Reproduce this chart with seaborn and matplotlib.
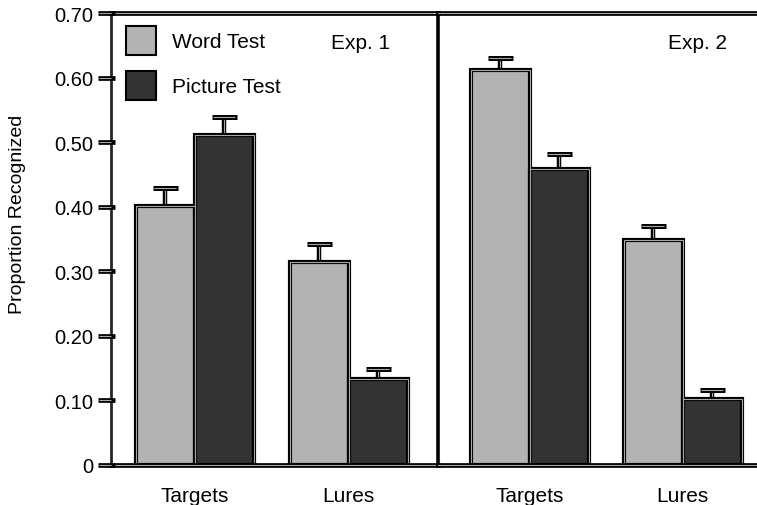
import matplotlib
matplotlib.use("Agg")
import matplotlib.pyplot as plt
import matplotlib.transforms as mtransforms
from matplotlib.patches import Patch, Rectangle
import seaborn as sns
import pandas as pd
import numpy as np

# ---- data ----
experiments = ["Exp. 1", "Exp. 2"]
conditions = ["Targets", "Lures"]
tests = ["Word Test", "Picture Test"]
exp1_word = [0.401, 0.314]
exp1_picture = [0.511, 0.133]
exp2_word = [0.612, 0.348]
exp2_picture = [0.458, 0.102]
exp1_word_err = [0.028, 0.028]
exp1_picture_err = [0.028, 0.016]
exp2_word_err = [0.018, 0.022]
exp2_picture_err = [0.024, 0.014]
yticks = [0, 0.10, 0.20, 0.30, 0.40, 0.50, 0.60, 0.70]
ytick_labels = ["0", "0.10", "0.20", "0.30", "0.40", "0.50", "0.60", "0.70"]

rows = []
vals = {("Exp. 1", "Word Test"): (exp1_word, exp1_word_err),
        ("Exp. 1", "Picture Test"): (exp1_picture, exp1_picture_err),
        ("Exp. 2", "Word Test"): (exp2_word, exp2_word_err),
        ("Exp. 2", "Picture Test"): (exp2_picture, exp2_picture_err)}
for (e, t), (v, er) in vals.items():
    for c, vv, ee in zip(conditions, v, er):
        rows.append(dict(exp=e, test=t, cond=c, value=vv, err=ee))
df = pd.DataFrame(rows)

sns.set_style("white")
plt.rcParams['font.family'] = ['Liberation Sans', 'DejaVu Sans']
plt.rcParams['text.color'] = 'black'
plt.rcParams['xtick.color'] = 'black'
plt.rcParams['ytick.color'] = 'black'
plt.rcParams['axes.labelcolor'] = 'black'

colors = {"Word Test": "#b3b3b3", "Picture Test": "#333333"}
INNER = "#a8a8a8"

fig = plt.figure(figsize=(7.57, 5.06), dpi=100)
W, H = 757, 506
L, R, D = 111, 757, 438
B, T = 466, 14
ax1 = fig.add_axes([L / W, 1 - B / H, (D - L) / W, (B - T) / H])
ax2 = fig.add_axes([D / W, 1 - B / H, (R - D) / W, (B - T) / H], sharey=ax1)
ax2.patch.set_alpha(0)

xlims = {ax1: (-0.545, 1.58), ax2: (-0.60, 1.485)}
width = 0.77

for ax, exp in zip([ax1, ax2], experiments):
    sub = df[df.exp == exp]
    sns.barplot(data=sub, x="cond", y="value", hue="test", order=conditions,
                hue_order=tests, palette=colors, width=width, errorbar=None,
                ax=ax, legend=False, edgecolor="black", linewidth=3.0,
                saturation=1, zorder=3)
    patches = sorted([p for p in ax.patches if p.get_height() > 0],
                     key=lambda p: p.get_x())
    ordered = sub.set_index(["cond", "test"]).loc[
        [(c, t) for c in conditions for t in tests]]
    for p, (idx, r) in zip(patches, ordered.iterrows()):
        ax.add_patch(Rectangle((p.get_x(), p.get_y()), p.get_width(), p.get_height(),
                               fill=False, edgecolor=INNER, lw=0.8, zorder=4))
        cx = p.get_x() + p.get_width() / 2
        top = r.value + r.err
        ax.vlines(cx, r.value, top, color="black", lw=3.2, zorder=2)
        ax.vlines(cx, r.value, top, color=INNER, lw=0.8, zorder=2)
        ax.plot([cx], [top], marker="_", ms=18, mew=3.6, color="black", zorder=2)
        ax.plot([cx], [top], marker="_", ms=16.5, mew=0.8, color=INNER, zorder=2)
    ax.set_xlim(*xlims[ax])
    ax.set_ylim(0, 0.70)
    ax.set_xlabel("")
    ax.set_ylabel("")
    ax.tick_params(axis="x", length=0, pad=15, labelsize=15)
    for s in ["top", "bottom"]:
        ax.spines[s].set_linewidth(3.4)
        ax.spines[s].set_color("black")
        ax.spines[s].set_zorder(5)
    ax.axhline(0.70, color=INNER, lw=0.8, zorder=6, clip_on=False)
    ax.axhline(0.0, color=INNER, lw=0.8, zorder=6, clip_on=False)

ax1.spines["left"].set_linewidth(2.0)
ax1.spines["right"].set_linewidth(2.6)
ax1.spines["right"].set_color("black")
ax2.spines["left"].set_visible(False)
ax2.spines["right"].set_visible(False)
plt.setp(ax2.get_yticklabels(), visible=False)
ax2.tick_params(axis="y", length=0)

ax1.set_yticks(yticks)
ax1.set_yticklabels(ytick_labels)
ax1.tick_params(axis="y", length=0, pad=13, labelsize=14.5)

# double-line y tick marks
ax_w = D - L
trans = mtransforms.blended_transform_factory(ax1.transAxes, ax1.transData)
for yv in yticks:
    ax1.plot([-13 / ax_w, 4 / ax_w], [yv, yv], color="black", lw=3.4,
             transform=trans, clip_on=False, zorder=7, solid_capstyle="butt")
    ax1.plot([-12 / ax_w, 0], [yv, yv], color=INNER, lw=0.8,
             transform=trans, clip_on=False, zorder=8, solid_capstyle="butt")

# legend
handles = [Patch(facecolor=colors[t], edgecolor="black", lw=1.5, label=t) for t in tests]
ax1.legend(handles=handles, loc="upper left", bbox_to_anchor=(0.0, 1.003),
           frameon=False, fontsize=15, handlelength=1.45, handleheight=1.75,
           handletextpad=0.8, labelspacing=0.78, borderaxespad=0.3)

ax1.text(0.855, 0.934, "Exp. 1", transform=ax1.transAxes, ha="right",
         va="center", fontsize=15)
ax2.text(0.906, 0.934, "Exp. 2", transform=ax2.transAxes, ha="right",
         va="center", fontsize=15)

fig.text(18 / W, 1 - 214 / H, "Proportion Recognized", rotation=90,
         ha="center", va="center", fontsize=14)

fig.savefig("out.png", dpi=100)
